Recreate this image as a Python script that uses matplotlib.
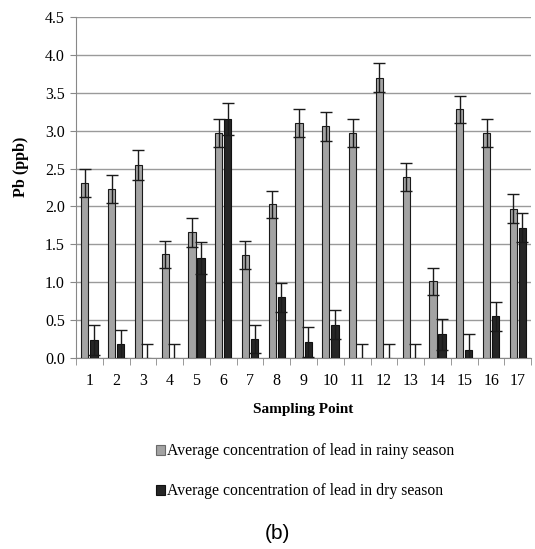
import matplotlib.pyplot as plt
import numpy as np

plt.rcParams['font.family'] = ['Liberation Serif', 'DejaVu Serif']

# Data
points = list(range(1, 18))
rainy = [2.31, 2.23, 2.55, 1.37, 1.66, 2.97, 1.36, 2.03, 3.10, 3.06, 2.97, 3.70, 2.39, 1.01, 3.28, 2.97, 1.97]
rainy_err = [0.18, 0.19, 0.20, 0.18, 0.19, 0.18, 0.19, 0.18, 0.18, 0.19, 0.18, 0.19, 0.18, 0.18, 0.18, 0.18, 0.19]
dry = [0.24, 0.18, 0.0, 0.0, 1.32, 3.15, 0.25, 0.80, 0.21, 0.44, 0.0, 0.0, 0.0, 0.31, 0.11, 0.55, 1.72]
dry_err = [0.20, 0.19, 0.19, 0.19, 0.21, 0.21, 0.19, 0.19, 0.20, 0.19, 0.19, 0.19, 0.19, 0.20, 0.20, 0.19, 0.19]

x = np.array(points)
w = 0.27
off = 0.17

fig = plt.figure(figsize=(5.35, 5.49), dpi=100)
ax = fig.add_axes([0.142, 0.348, 0.851, 0.621])

err_kw = dict(ecolor='#1a1a1a', elinewidth=1, capsize=4, capthick=1)
b1 = ax.bar(x - off, rainy, w, color='#a3a3a3', edgecolor='#1a1a1a', linewidth=0.8,
            yerr=rainy_err, error_kw=err_kw, zorder=3,
            label='Average concentration of lead in rainy season')
b2 = ax.bar(x + off, dry, w, color='#262626', edgecolor='#111111', linewidth=0.8,
            yerr=dry_err, error_kw=err_kw, zorder=3,
            label='Average concentration of lead in dry season')

ax.set_ylim(0, 4.5)
ax.set_yticks(np.arange(0, 4.51, 0.5))
ax.set_yticklabels([f'{v:.1f}' for v in np.arange(0, 4.51, 0.5)], fontsize=11.5)
ax.set_xlim(0.5, 17.5)
ax.set_xticks(x)
ax.set_xticklabels([str(p) for p in points], fontsize=11.5)
ax.set_xticks(np.arange(0.5, 18, 1), minor=True)
ax.tick_params(axis='x', which='major', length=0, pad=11)
ax.tick_params(axis='x', which='minor', length=5, color='#888888')
ax.tick_params(axis='y', length=4, color='#888888', pad=4)

ax.grid(axis='y', color='#9a9a9a', linewidth=1, zorder=0)
ax.set_axisbelow(True)
for s in ['top', 'right']:
    ax.spines[s].set_visible(False)
for s in ['left', 'bottom']:
    ax.spines[s].set_color('#888888')

ax.set_ylabel('Pb (ppb)', fontsize=11.5, fontweight='bold')
ax.yaxis.set_label_coords(-0.103, 0.56)
ax.set_xlabel('Sampling Point', fontsize=11, fontweight='bold', labelpad=10)

leg = fig.legend(handles=[b1, b2], loc='upper left', bbox_to_anchor=(0.265, 0.2186),
                 frameon=False, fontsize=11.3, handlelength=0.6, handleheight=0.6,
                 handletextpad=0.1, labelspacing=1.55)
leg.legend_handles[0].set_edgecolor('#6a6a6a')

fig.text(0.518, 0.018, '(b)', fontsize=15, family='Liberation Sans', ha='center')

fig.savefig('out.png', dpi=100)
